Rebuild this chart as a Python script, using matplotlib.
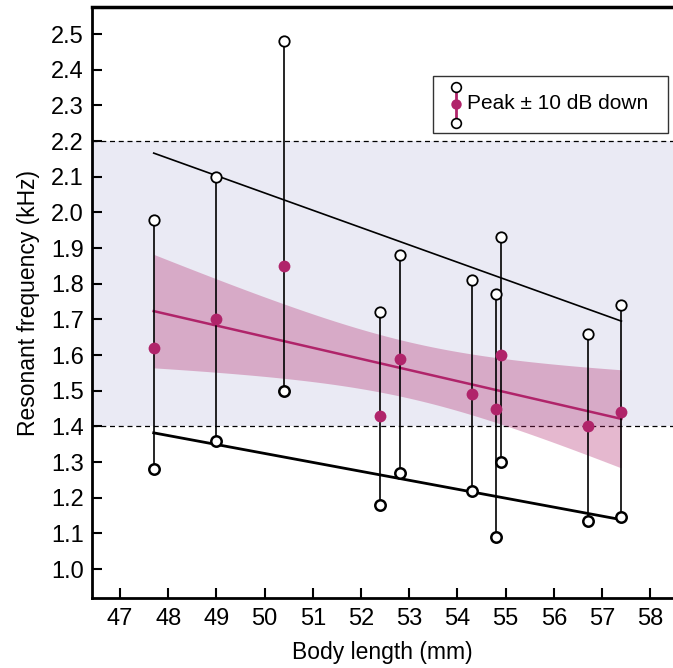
import numpy as np
import matplotlib
matplotlib.use("Agg")
import matplotlib.pyplot as plt
from matplotlib.patches import Rectangle

plt.rcParams['font.family'] = ['Liberation Sans', 'DejaVu Sans']

# body length (mm) and resonant frequency (kHz): peak and +/- 10 dB down points
body_len = [47.7, 49.0, 50.4, 52.4, 52.8, 54.3, 54.8, 54.9, 56.7, 57.4]
peak = [1.62, 1.70, 1.85, 1.43, 1.59, 1.49, 1.45, 1.60, 1.40, 1.44]
upper = [1.98, 2.10, 2.48, 1.72, 1.88, 1.81, 1.77, 1.93, 1.66, 1.74]
lower = [1.28, 1.36, 1.50, 1.18, 1.27, 1.22, 1.09, 1.30, 1.135, 1.145]

band_lo, band_hi = 1.4, 2.2
xticks = list(range(47, 59))
yticks = [1.0, 1.1, 1.2, 1.3, 1.4, 1.5, 1.6, 1.7, 1.8, 1.9, 2.0, 2.1, 2.2, 2.3, 2.4, 2.5]

magenta = '#B0246A'

x = np.array(body_len)
xs = np.linspace(x.min(), x.max(), 100)

fig = plt.figure(figsize=(6.73, 6.68), dpi=100)
ax = fig.add_axes([92/673, 1 - 598/668, 1 - 92/673, (598 - 7)/668])

ax.axhspan(band_lo, band_hi, color='#EAEAF4', zorder=0, lw=0)
ax.axhline(band_hi, color='black', ls=(0, (4, 3)), lw=0.9, zorder=1)
ax.axhline(band_lo, color='black', ls=(0, (4, 3)), lw=0.9, zorder=1)

# regression of peak with 95% confidence band
n = len(x)
yp = np.array(peak)
b, a = np.polyfit(x, yp, 1)
resid = yp - (a + b * x)
s = np.sqrt(np.sum(resid**2) / (n - 2))
sxx = np.sum((x - x.mean())**2)
t = 2.306  # t(0.975, 8)
hw = t * s * np.sqrt(1 / n + (xs - x.mean())**2 / sxx)
fit = a + b * xs
ax.fill_between(xs, fit - hw, fit + hw, color=magenta, alpha=0.32, lw=0, zorder=2)
ax.plot(xs, fit, color=magenta, lw=1.8, zorder=3)

# fits to upper and lower points
bu, au = np.polyfit(x, upper, 1)
ax.plot(xs, au + bu * xs, color='black', lw=1.2, zorder=3)
bl, al = np.polyfit(x, lower, 1)
ax.plot(xs, al + bl * xs, color='black', lw=2.0, zorder=3)

ax.vlines(body_len, lower, upper, color='black', lw=1.2, zorder=4)
ax.plot(body_len, upper, 'o', ms=7.5, mfc='white', mec='black', mew=1.3, zorder=5)
ax.plot(body_len, lower, 'o', ms=7.5, mfc='white', mec='black', mew=1.8, zorder=5)
ax.plot(body_len, peak, 'o', ms=8.5, color=magenta, mec='none', zorder=6)

# legend drawn by hand
ax.add_patch(Rectangle((0.587, 0.787), 0.404, 0.096, transform=ax.transAxes,
                       fill=False, ec='#333333', lw=1.0, zorder=7))
ax.plot([0.6265, 0.6265], [0.8037, 0.8646], transform=ax.transAxes,
        color=magenta, lw=2.0, zorder=7)
ax.plot([0.6265, 0.6265], [0.8646, 0.8037], 'o', transform=ax.transAxes,
        ms=7, mfc='white', mec='black', mew=1.2, zorder=8)
ax.plot([0.6265], [0.8359], 'o', transform=ax.transAxes,
        ms=7.5, color=magenta, mec='none', zorder=8)
ax.text(0.646, 0.836, 'Peak \u00b1 10 dB down', transform=ax.transAxes,
        ha='left', va='center', fontsize=15, zorder=8)

ax.set_xlim(46.42, 58.47)
ax.set_ylim(0.919, 2.576)
ax.set_xticks(xticks)
ax.set_yticks(yticks)
ax.set_yticklabels([f'{v:.1f}' for v in yticks])
ax.tick_params(direction='in', length=7, width=1.5, labelsize=17)
ax.tick_params(axis='y', pad=6)
ax.tick_params(axis='x', pad=7)

ax.spines['right'].set_visible(False)
ax.spines['top'].set_linewidth(2.5)
ax.spines['left'].set_linewidth(2.0)
ax.spines['bottom'].set_linewidth(2.0)

ax.set_xlabel('Body length (mm)', fontsize=16.5, labelpad=8)
ax.set_ylabel('Resonant frequency (kHz)', fontsize=16.5, labelpad=8)

fig.savefig('out.png', dpi=100)
